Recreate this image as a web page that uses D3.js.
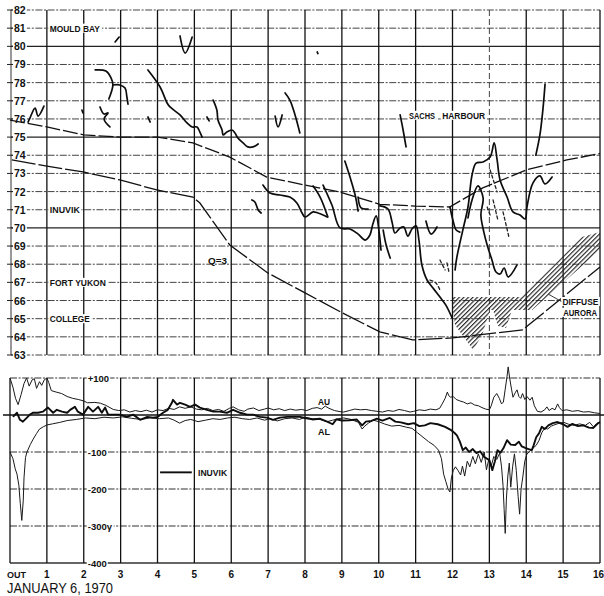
<!DOCTYPE html>
<html>
<head>
<meta charset="utf-8">
<script src="https://cdn.jsdelivr.net/npm/d3@7"></script>
<style>
  body { margin: 0; background: #fff; }
  svg { display: block; }
  text { font-family: "Liberation Sans", Arial, sans-serif; fill: #111; }
</style>
</head>
<body>
<svg id="chart" width="604" height="596"></svg>
<script>
// ---- axes / ticks ----
const hourTicks = d3.range(0, 17);
const hourLabels = ["OUT", "1", "2", "3", "4", "5", "6", "7", "8", "9", "10", "11", "12", "13", "14", "15", "16"];
const latTicks = d3.range(63, 83);
const latSolid = [80, 75, 70];
const magTicks = [100, -100, -200, -300, -400];
const magTickLabels = ["+100", "-100", "-200", "-300γ", "-400"];

// ---- station latitudes ----
const stationNames = ["MOULD BAY", "INUVIK", "FORT YUKON", "COLLEGE"];
const stationLats = [81, 71, 67, 65];
const stationWidths = [50, 30, 56, 40];

// ---- oval boundaries for Q = 3 (hour, latitude) ----
const polewardBoundary = [
  [0, 75.94], [1, 75.56], [2, 75.12], [3, 75.0], [4, 75.0], [4.96, 74.68], [5.96, 73.9],
  [6.96, 72.8], [8, 72.36], [8.94, 71.98], [10.03, 71.3], [11, 71.2], [11.92, 71.15],
  [12.82, 72.2], [14.01, 73.2], [15.1, 73.74], [16, 74.1]
];
const equatorwardBoundary = [
  [0.05, 73.74], [1, 73.4], [1.98, 73.08], [2.98, 72.64], [3.98, 72.09], [4.96, 71.7], [5.15, 71.37],
  [5.96, 69.06], [6.99, 67.52], [8, 66.42], [9.02, 65.31], [10.03, 64.27], [10.92, 63.83],
  [12.0, 63.94], [13.9, 64.38], [14.9, 66.03], [16, 67.85]
];

// ---- discrete auroral arcs (hour, latitude) ----
const arcs = [
  [[0.49, 75.83], [0.54, 76.05], [0.68, 76.60], [0.76, 76.16], [0.92, 76.71]],
  [[1.95, 76.49], [1.98, 76.33]],
  [[2.44, 76.66], [2.55, 76.27], [2.66, 76.33], [2.55, 76.0], [2.71, 75.56]],
  [[2.31, 78.70], [2.60, 78.64], [2.74, 78.26], [2.79, 77.87], [2.68, 77.10]],
  [[2.79, 77.87], [2.98, 77.87], [3.12, 77.70], [3.17, 77.21], [3.20, 76.82]],
  [[2.85, 80.24], [2.96, 80.51]],
  [[4.61, 80.57], [4.75, 79.63], [4.94, 80.51]],
  [[3.74, 78.70], [4.07, 77.76], [4.26, 76.88], [4.34, 76.66], [4.61, 76.22], [4.80, 75.78],
   [4.94, 75.56], [5.07, 75.56], [5.15, 75.28], [5.21, 75.0]],
  [[3.74, 76.11], [3.80, 75.83]],
  [[5.51, 77.04], [5.61, 76.49], [5.64, 75.94], [5.75, 75.39], [5.78, 75.12], [5.88, 75.28],
   [6.02, 75.39], [6.10, 75.23], [6.18, 74.95], [6.32, 74.68], [6.45, 74.46], [6.59, 74.46], [6.73, 74.62]],
  [[5.34, 76.11], [5.40, 75.89]],
  [[7.19, 76.16], [7.27, 75.56], [7.38, 76.22]],
  [[7.46, 77.43], [7.59, 77.04], [7.73, 76.22], [7.86, 75.23]],
  [[8.33, 79.69], [8.35, 79.60]],
  [[9.08, 73.68], [9.22, 72.80], [9.36, 71.81], [9.44, 70.93]],
  [[9.44, 71.70], [9.52, 71.10], [9.71, 71.04]],
  [[10.58, 76.22], [10.66, 75.39], [10.74, 74.46]],
  [[14.51, 77.92], [14.45, 76.49], [14.37, 75.12], [14.26, 74.01]],
  [[12.07, 67.68], [12.12, 68.40], [12.28, 69.88], [12.42, 71.15], [12.53, 72.91], [12.64, 73.57],
   [12.83, 73.63], [13.02, 73.90], [13.13, 74.68], [13.21, 73.74], [13.29, 72.64], [13.48, 71.70],
   [13.64, 70.88], [13.83, 70.71], [13.97, 70.49], [14.02, 71.15], [14.18, 72.47], [14.37, 72.86],
   [14.51, 72.42], [14.70, 72.80]],
  [[12.42, 70.55], [12.53, 71.54], [12.69, 72.31], [12.83, 71.65], [12.77, 70.71], [12.85, 69.77],
   [12.94, 69.06], [13.07, 68.23], [13.18, 67.57], [13.29, 67.46], [13.40, 67.79], [13.51, 67.30], [13.75, 67.96]],
  [[10.03, 71.21], [10.25, 71.04], [10.36, 70.33], [10.44, 69.72], [10.58, 70.0], [10.68, 70.05],
   [10.79, 69.55], [10.90, 69.94], [11.01, 70.11], [11.09, 69.33], [11.17, 67.96], [11.31, 67.13],
   [11.47, 66.69], [11.66, 66.19], [11.82, 65.75], [11.99, 65.04]],
  [[11.28, 70.38], [11.42, 69.66], [11.58, 70.05]],
  [[11.93, 71.15], [12.01, 70.44], [12.10, 69.88], [12.20, 69.77]],
  [[6.86, 72.36], [7.05, 71.92], [7.32, 71.81], [7.59, 71.70], [7.78, 71.37], [7.92, 70.82],
   [8.0, 70.60], [8.22, 70.88], [8.35, 70.82], [8.49, 70.71], [8.60, 70.60]],
  [[6.56, 71.54], [6.64, 71.43], [6.73, 70.99], [6.81, 70.82]],
  [[8.22, 72.31], [8.41, 71.70], [8.62, 70.60]],
  [[8.49, 72.36], [8.73, 71.26], [8.95, 70.0], [9.22, 69.94], [9.44, 69.66], [9.63, 69.33],
   [9.76, 69.61], [9.84, 70.22], [9.93, 70.66], [10.01, 69.77], [10.06, 68.78]],
  [[10.12, 69.88], [10.20, 69.06], [10.31, 68.34]]
];
// faint, broken arc traces
const faintArcs = [
  [[13.02, 73.19], [13.21, 71.98]],
  [[13.10, 71.54], [13.23, 70.44]],
  [[13.37, 70.88], [13.53, 69.50]],
  [[11.66, 68.23], [11.80, 67.68]],
  [[11.85, 68.07], [11.91, 67.52]],
  [[11.39, 67.13], [11.55, 66.97], [11.66, 66.58]],
  [[12.94, 71.15], [13.02, 70.71]]
];

// ---- diffuse aurora regions (hour, latitude) ----
const diffuseAurora = [
  [[12.01, 66.19], [13.88, 66.19], [15.51, 69.50], [16, 69.77], [16, 68.78], [14.16, 65.48], [12.01, 65.48]],
  [[12.01, 65.48], [13.02, 65.48], [12.80, 64.10], [12.56, 63.28], [12.07, 64.65]],
  [[13.10, 65.48], [13.61, 65.48], [13.45, 64.49], [13.23, 64.60]]
];

// ---- magnetograms (hour, nT) ----
const au = [
  [0,100],[0.08,75],[0.15,45],[0.22,28],[0.3,55],[0.38,85],[0.45,100],[0.52,78],[0.6,95],[0.66,98],
  [0.72,72],[0.8,90],[0.86,80],[0.93,95],[1.0,100],[1.05,88],[1.12,66],[1.25,62],[1.4,58],[1.55,50],
  [1.7,45],[1.85,42],[2.0,38],[2.1,33],[2.3,34],[2.45,32],[2.6,26],[2.8,15],[2.95,12],[3.1,14],
  [3.25,8],[3.4,12],[3.55,9],[3.7,13],[3.85,8],[4.0,14],[4.15,12],[4.3,18],[4.45,15],[4.6,22],
  [4.75,18],[4.9,22],[5.05,16],[5.2,14],[5.35,18],[5.5,12],[5.65,15],[5.8,10],[5.95,18],[6.05,22],
  [6.2,14],[6.35,10],[6.45,16],[6.6,19],[6.75,12],[6.9,16],[7.0,19],[7.15,14],[7.3,17],[7.45,12],
  [7.6,16],[7.75,13],[7.9,15],[8.05,12],[8.2,18],[8.33,20],[8.45,16],[8.55,24],[8.65,18],[8.8,12],
  [8.95,9],[9.05,8],[9.2,12],[9.35,16],[9.5,14],[9.65,15],[9.8,12],[9.95,10],[10.1,8],[10.25,12],
  [10.4,10],[10.55,15],[10.7,12],[10.85,8],[10.95,10],[11.1,14],[11.25,12],[11.4,16],[11.55,14],
  [11.65,18],[11.72,30],[11.8,45],[11.86,62],[11.9,52],[11.95,48],[12.02,50],[12.1,42],[12.2,38],
  [12.3,35],[12.4,30],[12.5,33],[12.6,27],[12.7,25],[12.8,20],[12.9,16],[13.0,14],[13.05,25],
  [13.12,48],[13.2,58],[13.27,45],[13.33,30],[13.38,35],[13.43,70],[13.48,105],[13.51,130],
  [13.55,100],[13.6,70],[13.64,48],[13.7,60],[13.75,68],[13.8,50],[13.85,45],[13.9,58],[13.96,42],
  [14.02,50],[14.1,40],[14.16,48],[14.22,25],[14.3,10],[14.4,8],[14.5,14],[14.56,22],[14.62,12],
  [14.7,18],[14.78,14],[14.85,30],[14.9,20],[14.97,12],[15.1,14],[15.25,10],[15.4,12],[15.55,8],
  [15.7,9],[15.85,6],[16,4]
];
const al = [
  [0,-100],[0.08,-118],[0.14,-145],[0.19,-160],[0.24,-190],[0.28,-240],[0.32,-285],[0.36,-230],
  [0.38,-170],[0.42,-115],[0.46,-100],[0.55,-80],[0.63,-65],[0.72,-50],[0.8,-38],[0.9,-32],[1.0,-27],
  [1.15,-24],[1.35,-20],[1.55,-15],[1.8,-12],[2.05,-8],[2.3,-10],[2.55,-6],[2.8,-8],[3.05,-5],
  [3.3,-9],[3.55,-12],[3.8,-8],[4.05,-10],[4.3,-8],[4.45,-14],[4.6,-22],[4.75,-15],[4.9,-12],
  [5.1,-18],[5.3,-14],[5.5,-10],[5.7,-12],[5.9,-8],[6.1,-6],[6.3,-10],[6.5,-12],[6.7,-8],[6.9,-14],
  [7.05,-10],[7.25,-16],[7.45,-10],[7.65,-8],[7.85,-12],[8.0,-6],[8.2,-10],[8.4,-12],[8.6,-18],
  [8.75,-14],[8.9,-10],[9.05,-8],[9.25,-12],[9.45,-20],[9.55,-38],[9.62,-30],[9.72,-22],[9.85,-14],
  [10.0,-18],[10.15,-24],[10.35,-30],[10.55,-28],[10.75,-33],[10.9,-36],[11.05,-48],[11.2,-60],
  [11.35,-72],[11.5,-82],[11.62,-95],[11.7,-118],[11.76,-160],[11.82,-180],[11.88,-200],[11.93,-208],
  [11.97,-170],[12.02,-150],[12.08,-140],[12.15,-150],[12.22,-162],[12.27,-138],[12.33,-165],
  [12.4,-125],[12.47,-140],[12.55,-112],[12.62,-132],[12.7,-105],[12.78,-128],[12.86,-100],
  [12.92,-148],[12.98,-122],[13.05,-138],[13.12,-112],[13.2,-120],[13.28,-103],[13.33,-140],
  [13.37,-190],[13.4,-255],[13.43,-320],[13.46,-230],[13.5,-165],[13.54,-130],[13.58,-195],
  [13.63,-140],[13.68,-105],[13.73,-150],[13.78,-220],[13.82,-268],[13.86,-200],[13.91,-165],
  [13.96,-125],[14.02,-105],[14.1,-98],[14.18,-90],[14.27,-82],[14.35,-68],[14.42,-48],[14.5,-35],
  [14.58,-38],[14.68,-30],[14.78,-26],[14.9,-22],[15.02,-20],[15.15,-25],[15.3,-28],[15.45,-24],
  [15.6,-28],[15.72,-20],[15.82,-32],[15.9,-24],[16,-18]
];
const inuvik = [
  [0.08,-5],[0.19,6],[0.27,-13],[0.35,-18],[0.46,-7],[0.54,1],[0.62,6],[0.76,6],[0.89,9],[1.03,20],
  [1.17,6],[1.27,14],[1.41,9],[1.55,6],[1.63,14],[1.76,22],[1.84,9],[1.98,1],[2.12,22],[2.25,9],
  [2.39,22],[2.49,6],[2.58,20],[2.66,1],[2.79,1],[2.98,1],[3.17,-5],[3.34,1],[3.53,-13],[3.72,-5],
  [3.88,-7],[4.01,-5],[4.15,6],[4.28,14],[4.39,33],[4.42,41],[4.53,28],[4.61,33],[4.75,28],[4.88,22],
  [5.02,28],[5.15,20],[5.34,14],[5.51,9],[5.69,9],[5.88,6],[6.05,14],[6.24,6],[6.43,1],[6.59,1],
  [6.78,-5],[6.97,-7],[7.13,-13],[7.32,-7],[7.51,-5],[7.67,-5],[7.86,-5],[8.0,-8],[8.2,-12],[8.4,-10],
  [8.6,-18],[8.75,-25],[8.85,-12],[9.0,-15],[9.2,-14],[9.4,-12],[9.55,-28],[9.65,-18],[9.8,-16],
  [9.95,-10],[10.1,-15],[10.3,-8],[10.45,-18],[10.6,-20],[10.8,-25],[10.95,-22],[11.1,-30],[11.25,-28],
  [11.4,-22],[11.6,-25],[11.8,-32],[11.95,-40],[12.05,-48],[12.12,-55],[12.2,-72],[12.28,-95],
  [12.36,-88],[12.45,-100],[12.55,-92],[12.65,-103],[12.75,-98],[12.85,-113],[13.0,-122],[13.08,-149],
  [13.15,-125],[13.22,-95],[13.3,-102],[13.38,-90],[13.48,-68],[13.58,-80],[13.7,-81],[13.8,-72],
  [13.88,-85],[13.97,-89],[14.06,-92],[14.15,-95],[14.2,-82],[14.27,-60],[14.35,-49],[14.42,-32],
  [14.5,-38],[14.6,-28],[14.72,-22],[14.85,-19],[15.0,-25],[15.12,-32],[15.25,-24],[15.4,-30],
  [15.55,-28],[15.7,-34],[15.82,-35],[15.95,-22],[16,-20]
];

// ---------------------------------------------------------------------------
const svg = d3.select("#chart");
const x = d3.scaleLinear().domain([0, 16]).range([10, 600]);
const yLat = d3.scaleLinear().domain([63, 82]).range([355, 10]);
const yMag = d3.scaleLinear().domain([-400, 100]).range([563, 378]);

const defs = svg.append("defs");
const hatch = defs.append("pattern").attr("id", "hatch")
  .attr("width", 3.2).attr("height", 3.2)
  .attr("patternUnits", "userSpaceOnUse")
  .attr("patternTransform", "rotate(45)");
hatch.append("line").attr("x1", 0.6).attr("y1", 0).attr("x2", 0.6).attr("y2", 3.2)
  .attr("stroke", "#1a1a1a").attr("stroke-width", 1.1);

// text with an optional white backing so it interrupts grid lines
function label(g, px, py, txt, o = {}) {
  const t = g.append("text")
    .attr("x", px).attr("y", py)
    .attr("font-size", o.size || 9)
    .attr("font-weight", o.weight || "bold")
    .attr("text-anchor", o.anchor || "start")
    .attr("dominant-baseline", "central")
    .text(txt);
  if (o.len) t.attr("textLength", o.len).attr("lengthAdjust", "spacingAndGlyphs");
  if (o.bg !== false) {
    const b = t.node().getBBox();
    const pad = o.pad == null ? 1.5 : o.pad;
    g.insert("rect", () => t.node())
      .attr("x", b.x - pad).attr("y", b.y + 1)
      .attr("width", b.width + 2 * pad).attr("height", b.height - 2)
      .attr("fill", "#fff");
  }
  return t;
}

// ================= upper panel: latitude vs time =================
const latPanel = svg.append("g");

// horizontal latitude lines
latPanel.append("g").selectAll("line").data(latTicks).join("line")
  .attr("x1", x(0) + 1).attr("x2", x(16))
  .attr("y1", d => yLat(d)).attr("y2", d => yLat(d))
  .attr("stroke", d => latSolid.includes(d) ? "#222" : "#444")
  .attr("stroke-width", d => latSolid.includes(d) ? 1.2 : 1)
  .attr("stroke-dasharray", d => latSolid.includes(d) ? null : "7,1.6,2,1.6");

// hour lines
latPanel.append("g").selectAll("line").data(hourTicks.filter(h => h > 0)).join("line")
  .attr("x1", d => x(d)).attr("x2", d => x(d))
  .attr("y1", yLat(82)).attr("y2", yLat(63))
  .attr("stroke", d => d === 13 ? "#444" : "#111")
  .attr("stroke-width", d => d === 13 ? 1 : 1.3)
  .attr("stroke-dasharray", d => d === 13 ? "6,3" : null);

// left axis
latPanel.append("line").attr("x1", x(0) + 1).attr("x2", x(0) + 1)
  .attr("y1", yLat(82)).attr("y2", yLat(63)).attr("stroke", "#333").attr("stroke-width", 1);
latPanel.append("g").selectAll("line").data(latTicks).join("line")
  .attr("x1", x(0) - 3).attr("x2", x(0) + 4)
  .attr("y1", d => yLat(d)).attr("y2", d => yLat(d))
  .attr("stroke", "#222").attr("stroke-width", 1);

const latLabels = latPanel.append("g");
latTicks.forEach(d => label(latLabels, x(0) + 4, yLat(d), String(d), { size: 10.5, pad: 1 }));

// station labels
const stLab = latPanel.append("g");
stationNames.forEach((n, i) =>
  label(stLab, x(1.08), yLat(stationLats[i]), n, { size: 9.5, len: stationWidths[i] }));
label(stLab, x(10.82), yLat(76.2), "SACHS", { size: 9.5, len: 26 });
label(stLab, x(11.72), yLat(76.2), "HARBOUR", { size: 9.5, len: 43 });

// diffuse aurora
const aur = latPanel.append("g");
diffuseAurora.forEach(poly => {
  aur.append("path")
    .attr("d", d3.line().x(d => x(d[0])).y(d => yLat(d[1]))(poly) + "Z")
    .attr("fill", "url(#hatch)").attr("stroke", "none");
});

// oval boundaries
const lineLat = d3.line().x(d => x(d[0])).y(d => yLat(d[1]));
latPanel.append("path").attr("d", lineLat(polewardBoundary))
  .attr("fill", "none").attr("stroke", "#111").attr("stroke-width", 1.3)
  .attr("stroke-dasharray", "15,3");
latPanel.append("path").attr("d", lineLat(equatorwardBoundary))
  .attr("fill", "none").attr("stroke", "#111").attr("stroke-width", 1.3)
  .attr("stroke-dasharray", "24,3");

// arcs
const arcLine = d3.line().x(d => x(d[0])).y(d => yLat(d[1])).curve(d3.curveCatmullRom.alpha(0.5));
latPanel.append("g").selectAll("path").data(arcs).join("path")
  .attr("d", arcLine)
  .attr("fill", "none").attr("stroke", "#0d0d0d").attr("stroke-width", 1.7)
  .attr("stroke-linecap", "round").attr("stroke-linejoin", "round");
latPanel.append("g").selectAll("path").data(faintArcs).join("path")
  .attr("d", arcLine)
  .attr("fill", "none").attr("stroke", "#222").attr("stroke-width", 1.3)
  .attr("stroke-dasharray", "3,2.5").attr("stroke-linecap", "round");

// annotations
label(latPanel, x(5.37), yLat(68.2), "Q=3", { size: 9.5, len: 19, bg: false });
label(latPanel, x(14.98), yLat(65.95), "DIFFUSE", { size: 9.5, len: 36 });
label(latPanel, x(15.0), yLat(65.35), "AURORA", { size: 9.5, len: 34 });
latPanel.append("line")
  .attr("x1", x(14.95)).attr("y1", yLat(65.95))
  .attr("x2", x(14.6)).attr("y2", yLat(66.35))
  .attr("stroke", "#222").attr("stroke-width", 0.9);

// ================= lower panel: magnetograms =================
const magPanel = svg.append("g");

magPanel.append("g").selectAll("line").data(magTicks).join("line")
  .attr("x1", x(0)).attr("x2", x(16))
  .attr("y1", d => yMag(d)).attr("y2", d => yMag(d))
  .attr("stroke", "#333").attr("stroke-width", d => d === -400 ? 1.3 : 1.1)
  .attr("stroke-dasharray", d => d === -400 ? null : "7,1.6,2,1.6");

magPanel.append("g").selectAll("line").data(hourTicks).join("line")
  .attr("x1", d => x(d)).attr("x2", d => x(d))
  .attr("y1", yMag(100)).attr("y2", yMag(-400))
  .attr("stroke", "#111").attr("stroke-width", 1.3);

// zero line
magPanel.append("line").attr("x1", 3).attr("x2", 604)
  .attr("y1", yMag(0)).attr("y2", yMag(0))
  .attr("stroke", "#111").attr("stroke-width", 1.3);

const magLab = magPanel.append("g");
magTicks.forEach((d, i) => label(magLab, x(2) + 4, yMag(d), magTickLabels[i], { size: 9.5, pad: 1 }));

const lineMag = d3.line().x(d => x(d[0])).y(d => yMag(d[1]));
magPanel.append("path").attr("d", lineMag(au))
  .attr("fill", "none").attr("stroke", "#1a1a1a").attr("stroke-width", 1);
magPanel.append("path").attr("d", lineMag(al))
  .attr("fill", "none").attr("stroke", "#1a1a1a").attr("stroke-width", 1);
magPanel.append("path").attr("d", lineMag(inuvik))
  .attr("fill", "none").attr("stroke", "#0d0d0d").attr("stroke-width", 1.9)
  .attr("stroke-linejoin", "round");

label(magPanel, x(8.35), yMag(37), "AU", { size: 9.5, len: 12, bg: false });
label(magPanel, x(8.35), yMag(-44), "AL", { size: 9.5, len: 12, bg: false });

// legend
magPanel.append("line").attr("x1", x(4.07)).attr("x2", x(4.93))
  .attr("y1", yMag(-155)).attr("y2", yMag(-155))
  .attr("stroke", "#0d0d0d").attr("stroke-width", 1.9);
label(magPanel, x(5.1), yMag(-155), "INUVIK", { size: 9.5, len: 29, bg: false });

// hour labels
const xl = svg.append("g");
hourTicks.forEach((h, i) => {
  if (i === 0) label(xl, x(0) - 3, 574, hourLabels[i], { size: 9.5, len: 19, bg: false });
  else if (i === 16) label(xl, 604, 574, hourLabels[i], { size: 10, anchor: "end", bg: false });
  else label(xl, x(h), 574, hourLabels[i], { size: 10, anchor: "middle", bg: false });
});
label(xl, 7, 588, "JANUARY 6, 1970", { size: 14.5, weight: "normal", len: 106, bg: false });
</script>
</body>
</html>
